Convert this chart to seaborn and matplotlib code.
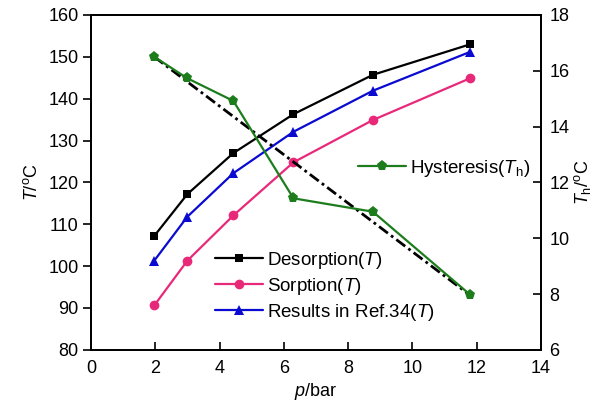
import matplotlib
matplotlib.use("Agg")
import matplotlib.pyplot as plt
import seaborn as sns
import pandas as pd

# Pressure points (bar)
pressure = [1.97, 3.0, 4.43, 6.3, 8.77, 11.8]

# Temperatures (deg C)
desorption_T = [107.2, 117.2, 127.0, 136.3, 145.7, 153.0]
sorption_T = [90.6, 101.3, 112.1, 124.8, 134.9, 144.9]
ref34_T = [101.3, 111.8, 122.2, 132.1, 141.9, 151.2]

# Hysteresis temperature (deg C, right axis)
hysteresis_Th = [16.5, 15.73, 14.92, 11.43, 10.95, 7.97]

# Linear trend of the hysteresis
trend_p = [1.97, 11.8]
trend_Th = [16.5, 7.95]

sns.set_style("ticks")
plt.rcParams["font.family"] = ["Liberation Sans", "DejaVu Sans"]
plt.rcParams["mathtext.fontset"] = "custom"
plt.rcParams["mathtext.it"] = "Liberation Sans:italic"
plt.rcParams["mathtext.rm"] = "Liberation Sans"
plt.rcParams["axes.linewidth"] = 1.3
plt.rcParams["text.color"] = "black"
plt.rcParams["axes.labelcolor"] = "black"
plt.rcParams["xtick.color"] = "black"
plt.rcParams["ytick.color"] = "black"

FS = 13
LFS = 13.5

fig, ax = plt.subplots(figsize=(6.10, 4.04), dpi=100)
fig.subplots_adjust(left=0.149, right=0.887, top=0.963, bottom=0.134)
ax2 = ax.twinx()

df = pd.DataFrame({
    "p": pressure,
    "des": desorption_T,
    "sor": sorption_T,
    "ref": ref34_T,
    "hys": hysteresis_Th,
})

lw = 1.6
sns.lineplot(data=df, x="p", y="des", ax=ax, color="black", marker="s",
             markersize=6, markeredgewidth=0, lw=lw,
             label=r"Desorption($T$)")
sns.lineplot(data=df, x="p", y="sor", ax=ax, color="#e8297a", marker="o",
             markersize=7, markeredgewidth=0, lw=lw,
             label=r"Sorption($T$)")
sns.lineplot(data=df, x="p", y="ref", ax=ax, color="#0a0ad0", marker="^",
             markersize=7, markeredgewidth=0, lw=lw,
             label=r"Results in Ref.34($T$)")

sns.lineplot(x=trend_p, y=trend_Th, ax=ax2, color="black", lw=2.0,
             linestyle=(0, (4, 1.4, 1, 1.4)), legend=False)
sns.lineplot(data=df, x="p", y="hys", ax=ax2, color="#1d7d1d", marker="p",
             markersize=8, markeredgewidth=0, lw=lw,
             label=r"Hysteresis($T_{\rm h}$)")

ax.set_xlim(0, 14)
ax.set_ylim(80, 160)
ax2.set_ylim(6, 18)
ax.set_xticks(range(0, 15, 2))
ax.set_yticks(range(80, 161, 10))
ax2.set_yticks(range(6, 19, 2))

ax.tick_params(axis="x", direction="in", length=6, width=1.2, labelsize=FS, pad=7)
ax.tick_params(axis="y", direction="out", length=6, width=1.2, labelsize=FS, pad=3)
ax2.tick_params(axis="y", direction="in", length=6, width=1.2, labelsize=FS, pad=6)
for a in (ax, ax2):
    for s in a.spines.values():
        s.set_visible(True)
        s.set_linewidth(1.3)
        s.set_color("black")

ax.set_xlabel(r"$p$/bar", fontsize=FS, labelpad=3)
ax.set_ylabel(r"$T$/$^{\rm o}$C", fontsize=FS, labelpad=5)
ax2.set_ylabel(r"$T_{\rm h}$/$^{\rm o}$C", fontsize=FS, rotation=90, labelpad=2)

ax.legend(loc="upper left", bbox_to_anchor=(0.276, 0.298), frameon=False,
          fontsize=LFS, handlelength=2.55, handletextpad=0.22, labelspacing=0.26,
          borderaxespad=0, borderpad=0)
ax2.legend(loc="center left", bbox_to_anchor=(0.593, 0.543), frameon=False,
           fontsize=LFS, handlelength=2.55, handletextpad=0.22,
           borderaxespad=0, borderpad=0)

fig.savefig("out.png", dpi=100)
